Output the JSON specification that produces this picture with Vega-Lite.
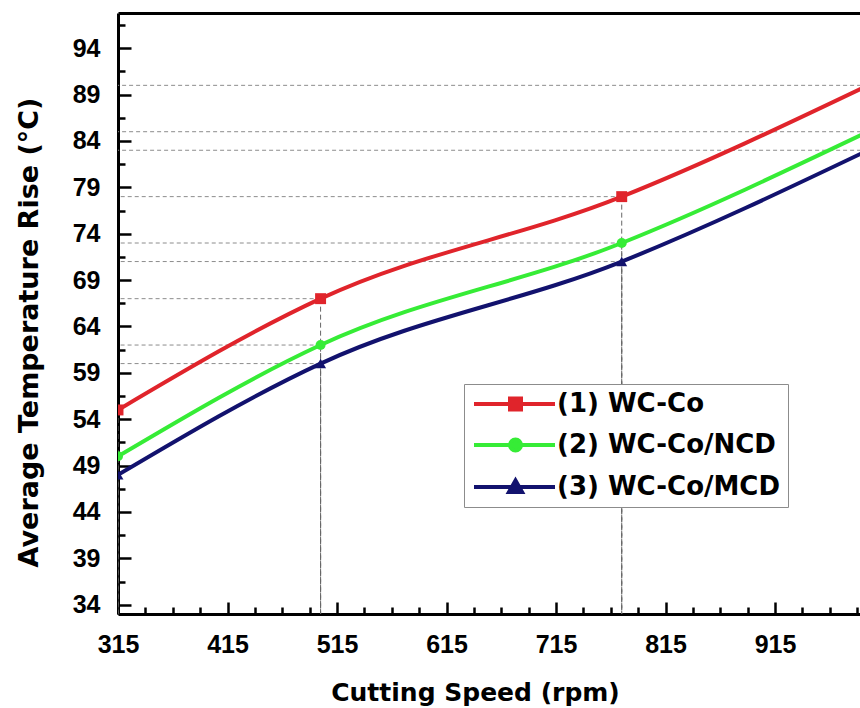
{
  "$schema": "https://vega.github.io/schema/vega-lite/v6.json",
  "width": 742,
  "height": 601,
  "autosize": {"type": "none"},
  "padding": {"left": 118, "top": 13, "right": 0, "bottom": 94},
  "background": "white",
  "config": {
    "view": {"stroke": null},
    "axis": {"grid": false}
  },
  "data": {
    "values": [
      {"speed": 315, "temp": 55, "series": "(1) WC-Co"},
      {"speed": 500, "temp": 67, "series": "(1) WC-Co"},
      {"speed": 775, "temp": 78, "series": "(1) WC-Co"},
      {"speed": 1000, "temp": 90, "series": "(1) WC-Co"},
      {"speed": 315, "temp": 50, "series": "(2) WC-Co/NCD"},
      {"speed": 500, "temp": 62, "series": "(2) WC-Co/NCD"},
      {"speed": 775, "temp": 73, "series": "(2) WC-Co/NCD"},
      {"speed": 1000, "temp": 85, "series": "(2) WC-Co/NCD"},
      {"speed": 315, "temp": 48, "series": "(3) WC-Co/MCD"},
      {"speed": 500, "temp": 60, "series": "(3) WC-Co/MCD"},
      {"speed": 775, "temp": 71, "series": "(3) WC-Co/MCD"},
      {"speed": 1000, "temp": 83, "series": "(3) WC-Co/MCD"}
    ]
  },
  "encoding": {
    "y": {
      "field": "temp",
      "type": "quantitative",
      "scale": {"domain": [33, 97.8], "nice": false, "zero": false},
      "axis": {
        "values": [34, 36.5, 39, 41.5, 44, 46.5, 49, 51.5, 54, 56.5, 59, 61.5, 64, 66.5, 69, 71.5, 74, 76.5, 79, 81.5, 84, 86.5, 89, 91.5, 94, 96.5],
        "labelExpr": "(datum.value - 34) % 5 === 0 ? datum.label : ''",
        "tickSize": {"condition": {"test": "(datum.value - 34) % 5 === 0", "value": -13}, "value": -7},
        "tickWidth": 2.5,
        "tickColor": "black",
        "domainWidth": 3,
        "domainColor": "black",
        "labelFont": "Liberation Sans",
        "labelFontSize": 25,
        "labelFontWeight": "bold",
        "labelColor": "black",
        "labelPadding": 31,
        "labelOverlap": false,
        "labelFlush": false,
        "labelBound": false,
        "grid": false,
        "title": "Average Temperature Rise (°C)",
        "titleFont": "DejaVu Sans",
        "titleFontSize": 27,
        "titleFontWeight": "bold",
        "titleColor": "black",
        "titleX": -81,
        "titleY": 319,
        "titleAngle": -90,
        "titleAlign": "center",
        "titleBaseline": "alphabetic"
      }
    }
  },
  "resolve": {"axis": {"x": "independent"}},
  "layer": [
    {
      "mark": {"type": "rule", "color": "#666666", "strokeWidth": 1, "strokeDash": [5, 3], "clip": true},
      "encoding": {
        "x": {"field": "speed", "type": "quantitative", "scale": {"domain": [315, 992.6], "nice": false, "zero": false}, "axis": null},
        "y2": {"datum": 33}
      }
    },
    {
      "mark": {"type": "rule", "color": "#8c8c8c", "strokeWidth": 1, "strokeDash": [4, 3], "clip": true},
      "encoding": {
        "x": {"field": "speed", "type": "quantitative", "scale": {"domain": [315, 992.6], "nice": false, "zero": false}, "axis": null},
        "x2": {"datum": 315}
      }
    },
    {
      "mark": {"type": "line", "interpolate": "monotone", "strokeWidth": 4, "clip": true},
      "encoding": {
        "x": {
          "field": "speed",
          "type": "quantitative",
          "scale": {"domain": [315, 992.6], "nice": false, "zero": false},
          "axis": {
            "orient": "bottom",
            "values": [315, 340, 365, 390, 415, 440, 465, 490, 515, 540, 565, 590, 615, 640, 665, 690, 715, 740, 765, 790, 815, 840, 865, 890, 915, 940, 965, 990],
            "labelExpr": "(datum.value - 315) % 100 === 0 ? datum.label : ''",
            "tickSize": {"condition": {"test": "(datum.value - 315) % 100 === 0", "value": -12}, "value": -7},
            "tickWidth": 2.5,
            "tickColor": "black",
            "domainWidth": 3,
            "domainColor": "black",
            "labelFont": "Liberation Sans",
            "labelFontSize": 25,
            "labelFontWeight": "bold",
            "labelColor": "black",
            "labelPadding": 30,
            "labelOverlap": false,
            "labelFlush": false,
            "labelBound": false,
            "grid": false,
            "title": "Cutting Speed (rpm)",
            "titleFont": "DejaVu Sans",
            "titleFontSize": 25,
            "titleFontWeight": "bold",
            "titleColor": "black",
            "titleX": 357,
            "titleY": 86,
            "titleAlign": "center",
            "titleBaseline": "alphabetic"
          }
        },
        "color": {
          "field": "series",
          "type": "nominal",
          "scale": {"domain": ["(1) WC-Co", "(2) WC-Co/NCD", "(3) WC-Co/MCD"], "range": ["#e0242b", "#36ec36", "#12126e"]},
          "legend": {
            "title": null,
            "orient": "none",
            "legendX": 346,
            "legendY": 371,
            "padding": 7,
            "strokeColor": "#8c8c8c",
            "fillColor": "white",
            "cornerRadius": 0,
            "symbolSize": 400,
            "symbolType": "stroke",
            "symbolStrokeWidth": 4,
            "labelFont": "DejaVu Sans",
            "labelFontSize": 26,
            "labelFontWeight": "bold",
            "labelColor": "black",
            "labelOffset": 60,
            "labelLimit": 400,
            "rowPadding": 13,
            "encode": {
              "symbols": {
                "update": {
                  "shape": {"signal": "datum.value === '(1) WC-Co' ? 'M-1,0H7.1M2.6,-0.55H3.7V0.55H2.6Z' : datum.value === '(2) WC-Co/NCD' ? 'M-1,0H7.1M3.7,0A0.55,0.55 0 1 1 2.6,0A0.55,0.55 0 1 1 3.7,0Z' : 'M-1,0H7.1M3.15,-0.65L3.8,0.5H2.5Z'"},
                  "fill": {"scale": "color", "field": "value"},
                  "stroke": {"scale": "color", "field": "value"},
                  "strokeWidth": {"value": 4},
                  "opacity": {"value": 1}
                }
              }
            }
          }
        }
      }
    },
    {
      "transform": [{"filter": "datum.series === '(1) WC-Co'"}],
      "mark": {"type": "point", "filled": true, "opacity": 1, "size": 120, "shape": "square", "clip": true},
      "encoding": {
        "x": {"field": "speed", "type": "quantitative", "scale": {"domain": [315, 992.6], "nice": false, "zero": false}, "axis": null},
        "color": {"field": "series", "type": "nominal", "legend": null}
      }
    },
    {
      "transform": [{"filter": "datum.series === '(2) WC-Co/NCD'"}],
      "mark": {"type": "point", "filled": true, "opacity": 1, "size": 100, "shape": "circle", "clip": true},
      "encoding": {
        "x": {"field": "speed", "type": "quantitative", "scale": {"domain": [315, 992.6], "nice": false, "zero": false}, "axis": null},
        "color": {"field": "series", "type": "nominal", "legend": null}
      }
    },
    {
      "transform": [{"filter": "datum.series === '(3) WC-Co/MCD'"}],
      "mark": {"type": "point", "filled": true, "opacity": 1, "size": 120, "shape": "triangle-up", "clip": true},
      "encoding": {
        "x": {"field": "speed", "type": "quantitative", "scale": {"domain": [315, 992.6], "nice": false, "zero": false}, "axis": null},
        "color": {"field": "series", "type": "nominal", "legend": null}
      }
    },
    {
      "mark": {"type": "point", "opacity": 0},
      "encoding": {
        "x": {
          "field": "speed",
          "type": "quantitative",
          "scale": {"domain": [315, 992.6], "nice": false, "zero": false},
          "axis": {"orient": "top", "labels": false, "ticks": false, "title": null, "domainWidth": 3, "domainColor": "black", "grid": false}
        }
      }
    }
  ]
}
